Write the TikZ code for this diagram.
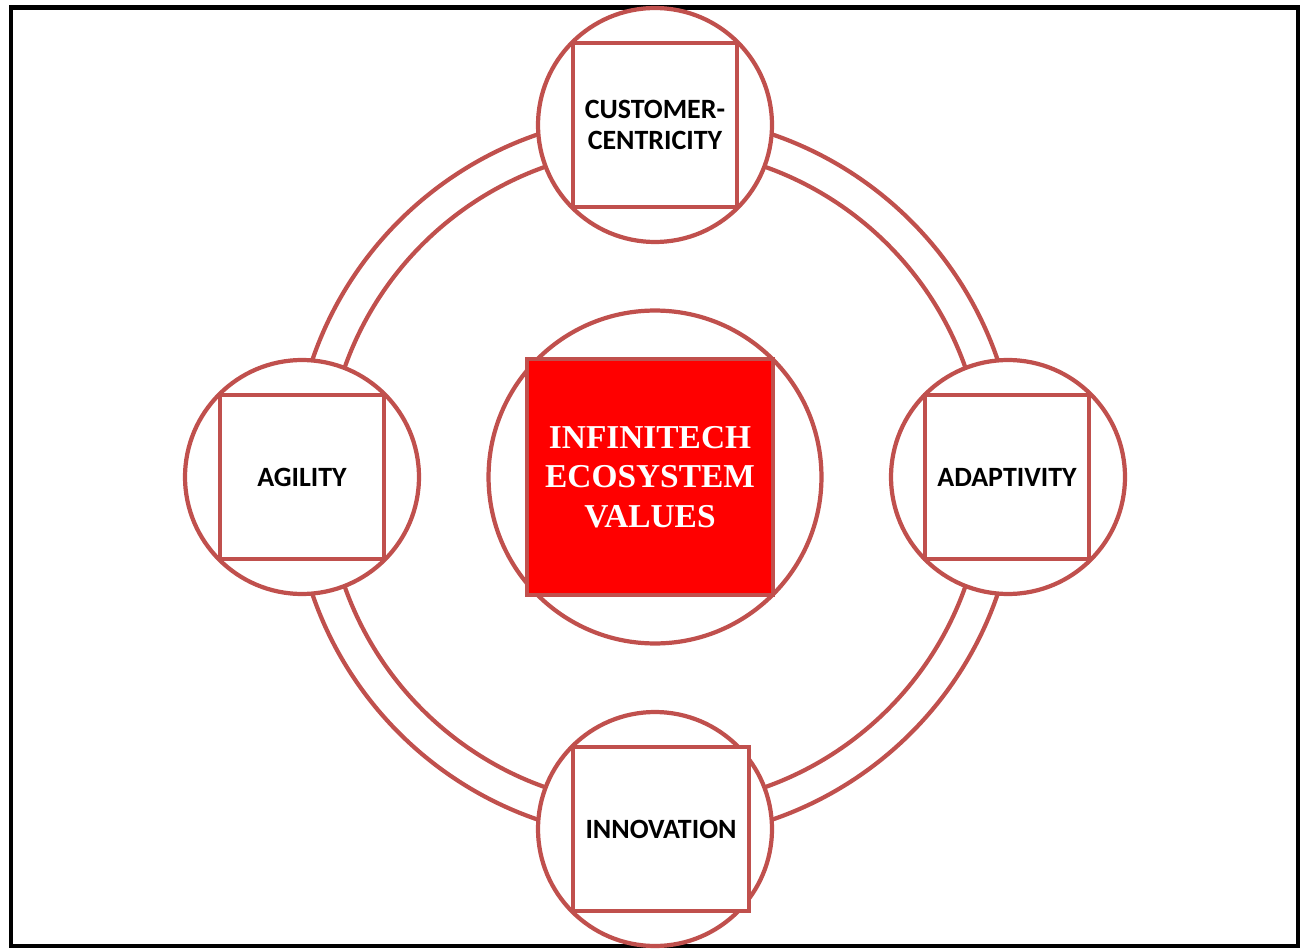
\documentclass[tikz,border=0pt]{standalone}
\usepackage{fontspec}
\setmainfont{Liberation Serif}
\newfontfamily\calib{Carlito}
\usepackage{tikz}
\definecolor{brick}{HTML}{C0504D}

\begin{document}
\begin{tikzpicture}[x=0.02cm,y=-0.02cm,line width=2.4pt,
bub/.style={circle,draw=brick,fill=white,minimum size=4.68cm,inner sep=0pt},
valbox/.style={rectangle,draw=brick,fill=white,minimum width=3.28cm,minimum height=3.28cm,inner sep=0pt,align=center,font=\calib\bfseries\fontsize{15.9}{17.6}\selectfont}]
\useasboundingbox (0,0) rectangle (1301,949);
\draw [black,line width=2.8pt] (11,7.5) rectangle (1298,946);
\draw [brick] (655,477) circle [radius=362];
\draw [brick] (655,477) circle [radius=329];

\node [bub] (topc) at (655,125) {};
\node [bub] (leftc) at (302,477) {};
\node [bub] (rightc) at (1008,477) {};
\node [bub] (botc) at (655,829) {};

\node [valbox] (cust) at (655,125) {CUSTOMER-\\CENTRICITY};
\node [valbox] (agil) at (302,477) {AGILITY};
\node [valbox] (adap) at (1007,477) {ADAPTIVITY};
\node [valbox,minimum width=3.52cm] (innov) at (661,829) {INNOVATION};

\node [circle,draw=brick,fill=white,minimum size=6.66cm,inner sep=0pt] (core) at (655,477) {};
\node [rectangle,draw=brick,fill=red,minimum width=4.92cm,minimum height=4.72cm,inner sep=0pt,align=center,text=white,font=\bfseries\fontsize{19}{22.4}\selectfont] (values) at (650,477) {INFINITECH\\ECOSYSTEM\\VALUES};
\end{tikzpicture}
\end{document}
